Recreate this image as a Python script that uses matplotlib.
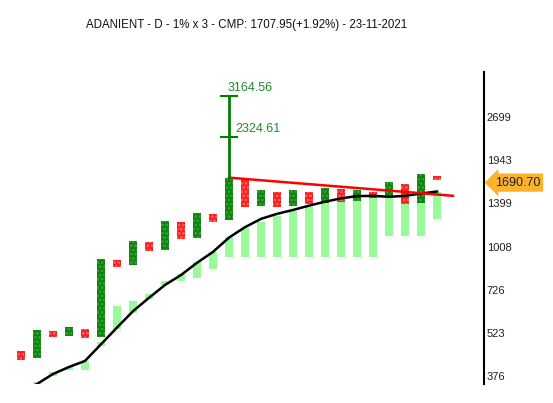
import numpy as np
import matplotlib
matplotlib.use("Agg")
import matplotlib.pyplot as plt
from matplotlib.ticker import NullLocator, FixedLocator, FixedFormatter
import matplotlib.transforms as mtransforms

plt.rcParams['font.family'] = ['Liberation Sans', 'DejaVu Sans']
plt.rcParams['hatch.linewidth'] = 0.6

# Point & figure columns (X = green, O = red): top / bottom box prices
col_type = ['O', 'X', 'O', 'X', 'O', 'X', 'O', 'X', 'O', 'X', 'O', 'X', 'O', 'X',
            'O', 'X', 'O', 'X', 'O', 'X', 'O', 'X', 'O', 'X', 'O', 'X', 'O']
col_top = [456, 535, 530, 546, 538, 918, 911, 1051, 1044, 1222, 1213, 1298, 1288, 1701,
           1688, 1543, 1520, 1543, 1520, 1578, 1566, 1543, 1520, 1651, 1626, 1753, 1727]
col_bot = [426, 433, 507, 510, 503, 507, 865, 878, 975, 983, 1067, 1075, 1213, 1231,
           1358, 1368, 1358, 1368, 1389, 1399, 1410, 1420, 1453, 1464, 1389, 1399, 1676]

# light green band columns
band_top = [np.nan, 361, 389, 404, 422, 487, 643, 668, 704, 777, 819, 896, 966, 1081,
            1159, 1215, 1275, 1324, 1365, 1406, 1449, 1471, 1471, 1460, 1481, 1505, 1528]
band_bot = [np.nan, 340, 377, 395, 395, 473, 537, 610, 678, 753, 777, 794, 850, 930,
            930, 930, 930, 930, 930, 930, 930, 930, 930, 1089, 1089, 1089, 1247]

# moving average
ma = [334, 355, 383, 404, 423, 480, 545, 617, 683, 753, 812, 891, 968, 1079,
      1168, 1244, 1292, 1331, 1375, 1417, 1453, 1479, 1481, 1471, 1481, 1508, 1531]

# trend line (column index, price)
trend_x = [13, 27]
trend_y = [1701, 1482]

# target projection
target_col = 13
target_base = 1701
targets = [2324.61, 3164.56]

yticks = [376, 523, 726, 1008, 1399, 1943, 2699]
last_price = 1690.70
title = "ADANIENT - D - 1% x 3 - CMP: 1707.95(+1.92%) - 23-11-2021"

W, H = 553, 403
fig = plt.figure(figsize=(W / 100, H / 100), dpi=100)
ax = fig.add_axes([0, 1 - 384 / H, 484 / W, (384 - 72) / H])

x = np.arange(len(col_top))
ax.set_yscale('log')

# band bars
bt = np.array(band_top, dtype=float)
bb = np.array(band_bot, dtype=float)
ax.bar(x, bt - bb, bottom=bb, width=0.5, color='#98fb98', lw=0, zorder=1)

# ma line
ax.plot(x, ma, color='black', lw=1.8, zorder=3)

# P&F columns
for i, t in enumerate(col_type):
    if t == 'X':
        fc, hc = '#0c840c', '#2e9e2e'
    else:
        fc, hc = '#ff1c1c', '#ff5a5a'
    ax.bar(i, col_top[i] - col_bot[i], bottom=col_bot[i], width=0.5,
           color=fc, edgecolor=hc, hatch='oooo', lw=0, zorder=2)

# trend line
ax.plot(trend_x, trend_y, color='#ff0000', lw=1.8, zorder=4)

# target line
ax.plot([target_col, target_col], [target_base, max(targets)], color='#008000', lw=2, zorder=4)
for k, tv in enumerate(targets):
    ax.plot([target_col - 0.5, target_col + 0.5], [tv, tv], color='#008000', lw=1.5, zorder=4)
ax.text(target_col - 0.1, targets[1] * 1.012, f"{targets[1]:.2f}", color='#1f8a2a',
        fontsize=9, ha='left', va='bottom')
ax.text(target_col + 0.4, targets[0] * 1.012, f"{targets[0]:.2f}", color='#1f8a2a',
        fontsize=9, ha='left', va='bottom')

ax.set_xlim(-21 / 16, (484 - 21) / 16)
ax.set_ylim(355, 3794)

for s in ['top', 'left', 'bottom']:
    ax.spines[s].set_visible(False)
ax.spines['right'].set_color('black')
ax.spines['right'].set_linewidth(1.5)
ax.xaxis.set_major_locator(NullLocator())
ax.xaxis.set_minor_locator(NullLocator())
ax.yaxis.set_minor_locator(NullLocator())
ax.yaxis.set_major_locator(FixedLocator(yticks))
ax.yaxis.set_major_formatter(FixedFormatter([str(v) for v in yticks]))
ax.yaxis.tick_right()
ax.tick_params(axis='y', length=0, pad=2, labelsize=8, labelcolor='#202020')

# last price marker
trans = mtransforms.blended_transform_factory(ax.transAxes, ax.transData)
ax.annotate(f"{last_price:.2f}", xy=(1.022, last_price), xycoords=trans,
            xytext=(0, -3), textcoords='offset points', fontsize=9,
            ha='left', va='center', color='#222222', annotation_clip=False,
            bbox=dict(boxstyle='larrow,pad=0.25', fc='#fdb22c', ec='none'))

fig.text(247 / W, 1 - 25 / H, title, ha='center', va='center', fontsize=8.3, color='#111111')

fig.savefig('out.png', dpi=100)
